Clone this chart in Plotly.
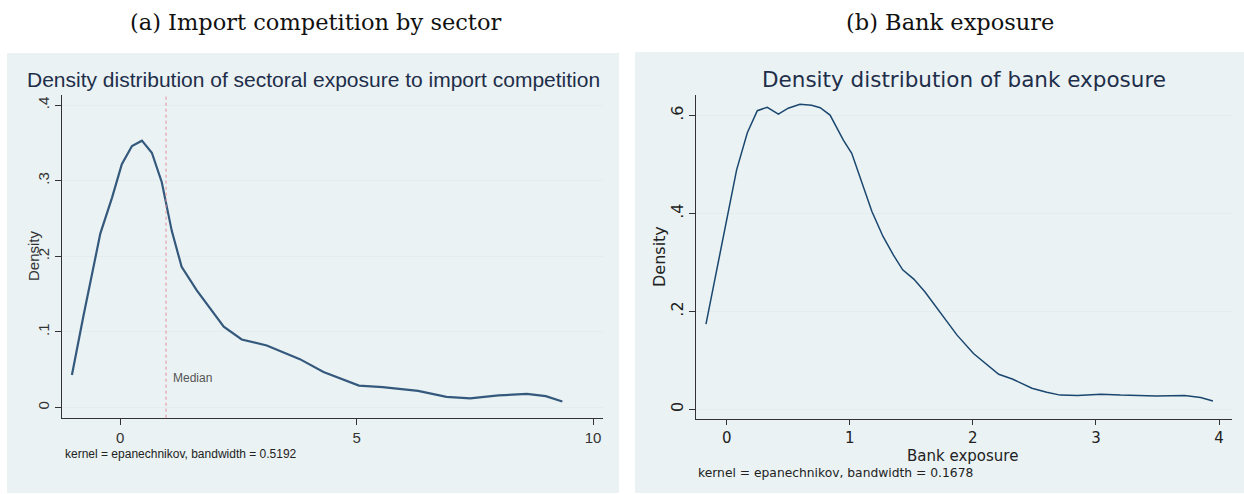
import plotly.graph_objects as go

W, H = 1244, 494

# Panel (a): sectoral exposure to import competition (kernel density)
import_x = [-1.02, -0.78, -0.42, -0.17, 0.035, 0.25, 0.46, 0.67, 0.88, 1.09, 1.30, 1.62,
            2.19, 2.57, 3.10, 3.80, 4.30, 4.65, 5.05, 5.55, 6.30, 6.90, 7.40, 8.00,
            8.60, 9.00, 9.35]
import_density = [0.043, 0.120, 0.230, 0.278, 0.322, 0.346, 0.353, 0.337, 0.298, 0.234,
                  0.186, 0.155, 0.107, 0.090, 0.082, 0.064, 0.047, 0.0385, 0.029, 0.027,
                  0.022, 0.014, 0.012, 0.016, 0.018, 0.015, 0.008]
import_median = 0.97
import_yticks = [0, 0.1, 0.2, 0.3, 0.4]
import_yticklabels = ["0", ".1", ".2", ".3", ".4"]
import_xticks = [0, 5, 10]

# Panel (b): bank exposure (kernel density)
bank_x = [-0.168, -0.081, 0.0, 0.081, 0.168, 0.249, 0.33, 0.42, 0.50, 0.596, 0.69, 0.76,
          0.84, 0.948, 1.016, 1.10, 1.18, 1.27, 1.355, 1.43, 1.52, 1.61, 1.71, 1.79,
          1.87, 2.005, 2.21, 2.32, 2.48, 2.60, 2.71, 2.85, 3.04, 3.20, 3.30, 3.49,
          3.72, 3.85, 3.95]
bank_density = [0.174, 0.285, 0.387, 0.489, 0.565, 0.610, 0.617, 0.603, 0.615, 0.623,
                0.621, 0.616, 0.601, 0.550, 0.523, 0.462, 0.404, 0.353, 0.315, 0.285,
                0.266, 0.240, 0.206, 0.179, 0.152, 0.114, 0.0715, 0.062, 0.043, 0.035,
                0.029, 0.028, 0.031, 0.029, 0.028, 0.027, 0.028, 0.024, 0.017]
bank_yticks = [0, 0.2, 0.4, 0.6]
bank_yticklabels = ["0", ".2", ".4", ".6"]
bank_xticks = [0, 1, 2, 3, 4]

BG = "#eaf2f3"
GRID = "#e3ecee"
NAVY = "#1a476f"
TITLE = "#1e2e4a"
AXIS = "#333333"
SANS_A = "Liberation Sans, Arial, sans-serif"
SANS_B = "DejaVu Sans, Verdana, sans-serif"
SERIF = "DejaVu Serif, serif"


def px_x(p):
    return p / W


def px_y(p):
    return 1 - p / H


fig = go.Figure()

fig.add_trace(go.Scatter(x=import_x, y=import_density, mode="lines",
                         line=dict(color="#34597d", width=2.2),
                         xaxis="x", yaxis="y", showlegend=False, hoverinfo="skip"))
fig.add_trace(go.Scatter(x=bank_x, y=bank_density, mode="lines",
                         line=dict(color=NAVY, width=1.5),
                         xaxis="x2", yaxis="y2", showlegend=False, hoverinfo="skip"))

common_axis = dict(showline=True, linecolor=AXIS, linewidth=1, ticks="outside",
                   tickcolor=AXIS, zeroline=False, mirror=False)

fig.update_layout(
    width=W, height=H,
    margin=dict(l=0, r=0, t=0, b=0),
    paper_bgcolor="white",
    plot_bgcolor="white",
    showlegend=False,
    xaxis=dict(domain=[px_x(62), px_x(603)], range=[-1.23, 10.21],
               tickvals=import_xticks, showgrid=False, anchor="y", ticklen=6,
               tickfont=dict(family=SANS_A, size=15, color=AXIS), **common_axis),
    yaxis=dict(domain=[px_y(417.7), px_y(95)], range=[-0.0135, 0.4134],
               tickvals=import_yticks, ticktext=import_yticklabels, tickangle=-90,
               showgrid=True, gridcolor=GRID, gridwidth=1, anchor="x", ticklen=6,
               tickfont=dict(family=SANS_A, size=15, color=AXIS), **common_axis),
    xaxis2=dict(domain=[px_x(696), px_x(1232)], range=[-0.249, 4.105],
                tickvals=bank_xticks, showgrid=False, anchor="y2", ticklen=5,
                tickfont=dict(family=SANS_B, size=15, color="#222222"), **common_axis),
    yaxis2=dict(domain=[px_y(419), px_y(95)], range=[-0.0198, 0.642],
                tickvals=bank_yticks, ticktext=bank_yticklabels, tickangle=-90,
                showgrid=True, gridcolor=GRID, gridwidth=1, anchor="x2", ticklen=6,
                tickfont=dict(family=SANS_B, size=16, color="#222222"), **common_axis),
)

# Panel backgrounds
fig.add_shape(type="rect", xref="paper", yref="paper", layer="below",
              x0=px_x(7), x1=px_x(619), y0=px_y(493), y1=px_y(53),
              fillcolor=BG, line_width=0)
fig.add_shape(type="rect", xref="paper", yref="paper", layer="below",
              x0=px_x(635), x1=1, y0=px_y(493), y1=px_y(52),
              fillcolor=BG, line_width=0)

# Median marker in panel (a)
fig.add_shape(type="line", xref="x", yref="paper",
              x0=import_median, x1=import_median, y0=px_y(417.7), y1=px_y(95),
              line=dict(color="#e58c96", width=1, dash="dot"))

ann = []
ann.append(dict(text="Median", x=import_median, y=0.039, xref="x", yref="y",
                xanchor="left", yanchor="middle", xshift=5, showarrow=False,
                font=dict(family=SANS_A, size=12, color="#555555")))

# Sub-figure captions
ann.append(dict(text="(a) Import competition by sector", x=px_x(315), y=px_y(22),
                xref="paper", yref="paper", xanchor="center", yanchor="middle",
                showarrow=False, font=dict(family=SERIF, size=22.5, color="#111111")))
ann.append(dict(text="(b) Bank exposure", x=px_x(950), y=px_y(22),
                xref="paper", yref="paper", xanchor="center", yanchor="middle",
                showarrow=False, font=dict(family=SERIF, size=22.5, color="#111111")))

# Chart titles
ann.append(dict(text="Density distribution of sectoral exposure to import competition",
                x=px_x(313), y=px_y(80), xref="paper", yref="paper",
                xanchor="center", yanchor="middle", showarrow=False,
                font=dict(family=SANS_A, size=21, color=TITLE)))
ann.append(dict(text="Density distribution of bank exposure",
                x=px_x(964), y=px_y(79), xref="paper", yref="paper",
                xanchor="center", yanchor="middle", showarrow=False,
                font=dict(family=SANS_B, size=21.5, color=TITLE)))

# Axis titles
ann.append(dict(text="Density", x=px_x(33), y=px_y(256), xref="paper", yref="paper",
                xanchor="center", yanchor="middle", textangle=-90, showarrow=False,
                font=dict(family=SANS_A, size=15, color=AXIS)))
ann.append(dict(text="Density", x=px_x(659), y=px_y(257), xref="paper", yref="paper",
                xanchor="center", yanchor="middle", textangle=-90, showarrow=False,
                font=dict(family=SANS_B, size=16, color="#222222")))
ann.append(dict(text="Bank exposure", x=px_x(962), y=px_y(456), xref="paper",
                yref="paper", xanchor="center", yanchor="middle", showarrow=False,
                font=dict(family=SANS_B, size=15, color="#222222")))

# Kernel notes
ann.append(dict(text="kernel = epanechnikov, bandwidth = 0.5192", x=px_x(63),
                y=px_y(454), xref="paper", yref="paper", xanchor="left",
                yanchor="middle", showarrow=False,
                font=dict(family=SANS_A, size=12, color="#222222")))
ann.append(dict(text="kernel = epanechnikov, bandwidth = 0.1678", x=px_x(696),
                y=px_y(473), xref="paper", yref="paper", xanchor="left",
                yanchor="middle", showarrow=False,
                font=dict(family=SANS_B, size=12.3, color="#222222")))

fig.update_layout(annotations=ann)
fig.write_html("out.html")
